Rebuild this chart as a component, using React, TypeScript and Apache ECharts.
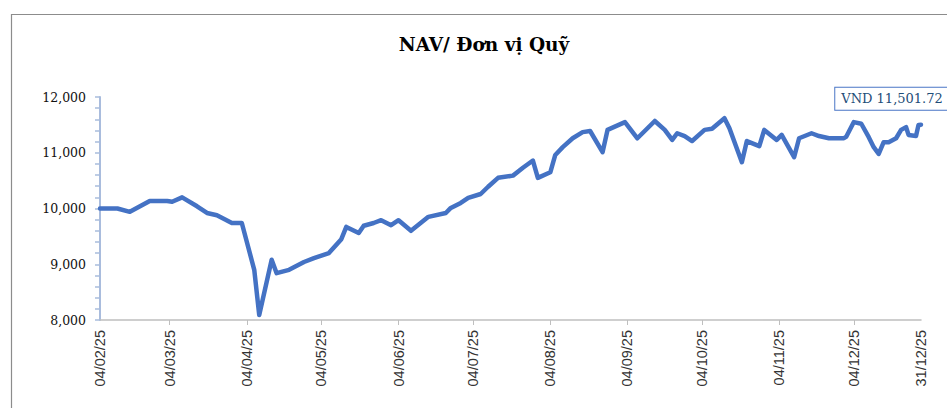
import React, { useEffect, useRef } from "react";
import * as echarts from "echarts";

const dates: string[] = [
  "2025-02-04", "2025-02-11", "2025-02-16", "2025-02-24", "2025-03-03", "2025-03-05", "2025-03-09",
  "2025-03-15", "2025-03-19", "2025-03-23", "2025-03-29", "2025-04-02", "2025-04-07", "2025-04-09",
  "2025-04-14", "2025-04-16", "2025-04-21", "2025-04-27", "2025-05-01", "2025-05-07", "2025-05-12",
  "2025-05-14", "2025-05-19", "2025-05-21", "2025-05-25", "2025-05-28", "2025-06-01", "2025-06-04",
  "2025-06-09", "2025-06-16", "2025-06-23", "2025-06-25", "2025-06-29", "2025-07-02", "2025-07-07",
  "2025-07-10", "2025-07-14", "2025-07-20", "2025-07-24", "2025-07-28", "2025-07-30", "2025-08-04",
  "2025-08-06", "2025-08-09", "2025-08-13", "2025-08-17", "2025-08-20", "2025-08-25", "2025-08-27",
  "2025-09-03", "2025-09-08", "2025-09-15", "2025-09-19", "2025-09-22", "2025-09-24", "2025-09-27",
  "2025-09-30", "2025-10-05", "2025-10-08", "2025-10-13", "2025-10-15", "2025-10-20", "2025-10-22",
  "2025-10-27", "2025-10-29", "2025-11-03", "2025-11-05", "2025-11-10", "2025-11-12", "2025-11-17",
  "2025-11-20", "2025-11-24", "2025-11-30", "2025-12-01", "2025-12-04", "2025-12-07", "2025-12-10",
  "2025-12-12", "2025-12-14", "2025-12-16", "2025-12-18", "2025-12-21", "2025-12-23", "2025-12-25",
  "2025-12-26", "2025-12-29", "2025-12-30", "2025-12-31",
];

const navValues: number[] = [
  10000, 10000, 9940, 10135, 10135, 10120, 10200,
  10040, 9920, 9880, 9740, 9740, 8900, 8090,
  9080, 8840, 8900, 9040, 9110, 9200, 9450,
  9670, 9560, 9690, 9740, 9790, 9700, 9790,
  9600, 9850, 9920, 10010, 10100, 10190, 10260,
  10390, 10550, 10590, 10730, 10860, 10550, 10650,
  10960, 11100, 11260, 11370, 11390, 11010, 11410,
  11550, 11260, 11570, 11410, 11230, 11350, 11300,
  11210, 11410, 11430, 11620, 11440, 10830, 11210,
  11120, 11410, 11230, 11320, 10920, 11260, 11350,
  11300, 11260, 11260, 11290, 11550, 11520, 11280,
  11100, 10980, 11190, 11190, 11260, 11410, 11460,
  11320, 11300, 11500, 11501.72,
];

const tickDates: string[] = [
  "2025-02-04", "2025-03-04", "2025-04-04", "2025-05-04", "2025-06-04", "2025-07-04",
  "2025-08-04", "2025-09-04", "2025-10-04", "2025-11-04", "2025-12-04", "2025-12-31",
];

const titleText = "NAV/ Đơn vị Quỹ";

const toDate = (s: string) => {
  const [y, m, d] = s.split("-").map(Number);
  return new Date(y, m - 1, d);
};
const startDate = toDate(tickDates[0]);
const DAY = 86400000;
const toDay = (s: string) => Math.round((toDate(s).getTime() - startDate.getTime()) / DAY);

const fmtDay = (v: number) => {
  const d = new Date(startDate.getFullYear(), startDate.getMonth(), startDate.getDate() + Math.round(v));
  const dd = String(d.getDate()).padStart(2, "0");
  const mm = String(d.getMonth() + 1).padStart(2, "0");
  const yy = String(d.getFullYear() % 100).padStart(2, "0");
  return `${dd}/${mm}/${yy}`;
};

export default function App() {
  const ref = useRef<HTMLDivElement>(null);
  useEffect(() => {
    if (!ref.current) return;
    const chart = echarts.init(ref.current, undefined, { renderer: "svg" });
    const data = dates.map((d, i) => [toDay(d), navValues[i]]);
    const ticks = tickDates.map(toDay);
    const last = data[data.length - 1];
    chart.setOption({
      animation: false,
      backgroundColor: "#ffffff",
      graphic: [
        {
          type: "rect",
          shape: { x: 11.5, y: 14.5, width: 1000, height: 500 },
          style: { fill: "none", stroke: "#8c8c8c", lineWidth: 1.2 },
          silent: true,
        },
        {
          type: "text",
          x: 484,
          y: 44,
          style: {
            text: titleText,
            textAlign: "center",
            textVerticalAlign: "middle",
            font: "bold 18.5px 'DejaVu Serif'",
            fill: "#000",
          },
        },
      ],
      grid: { left: 100, right: 26, top: 97, bottom: 88, containLabel: false },
      xAxis: {
        type: "value",
        min: ticks[0],
        max: ticks[ticks.length - 1],
        splitLine: { show: false },
        axisLine: { lineStyle: { color: "#bfbfbf", width: 1.5 } },
        axisTick: {
          show: true,
          customValues: ticks.slice(1, ticks.length - 1),
          length: 5,
          lineStyle: { color: "#bfbfbf" },
        },
        axisLabel: {
          customValues: ticks,
          formatter: (v: number) => fmtDay(v),
          rotate: 90,
          margin: 10,
          fontFamily: "Liberation Sans",
          fontSize: 14.5,
          color: "#333",
          hideOverlap: false,
        },
      },
      yAxis: {
        type: "value",
        min: 8000,
        max: 12000,
        interval: 1000,
        splitLine: { show: false },
        axisLine: { show: true, lineStyle: { color: "#a9bcdd", width: 2 } },
        axisTick: { show: true, length: 5, lineStyle: { color: "#a9bcdd", width: 1.5 } },
        minorTick: { show: true, splitNumber: 5, length: 5, lineStyle: { color: "#a9bcdd", width: 1.5 } },
        axisLabel: {
          margin: 14,
          fontFamily: "DejaVu Serif",
          fontSize: 12.5,
          color: "#111",
          formatter: (v: number) => v.toLocaleString("en-US"),
        },
      },
      series: [
        {
          type: "line",
          data,
          showSymbol: false,
          smooth: false,
          lineStyle: { color: "#4472c4", width: 4.5, join: "round", cap: "round" },
          itemStyle: { color: "#4472c4" },
          markPoint: {
            symbol: "circle",
            symbolSize: 1,
            itemStyle: { color: "rgba(0,0,0,0)" },
            data: [
              {
                coord: last,
                label: {
                  show: true,
                  position: "inside",
                  offset: [-29, -26],
                  formatter: () =>
                    "VND " +
                    Number(last[1]).toLocaleString("en-US", {
                      minimumFractionDigits: 2,
                      maximumFractionDigits: 2,
                    }),
                  fontFamily: "DejaVu Serif",
                  fontSize: 13,
                  color: "#1f4e79",
                  backgroundColor: "#fff",
                  borderColor: "#4a76c6",
                  borderWidth: 1,
                  padding: [5, 6, 4, 6],
                },
              },
            ],
          },
        },
      ],
    });
    return () => chart.dispose();
  }, []);
  return (
    <div
      ref={ref}
      style={{ position: "fixed", left: 0, top: 0, width: 947, height: 408, background: "#fff" }}
    />
  );
}
